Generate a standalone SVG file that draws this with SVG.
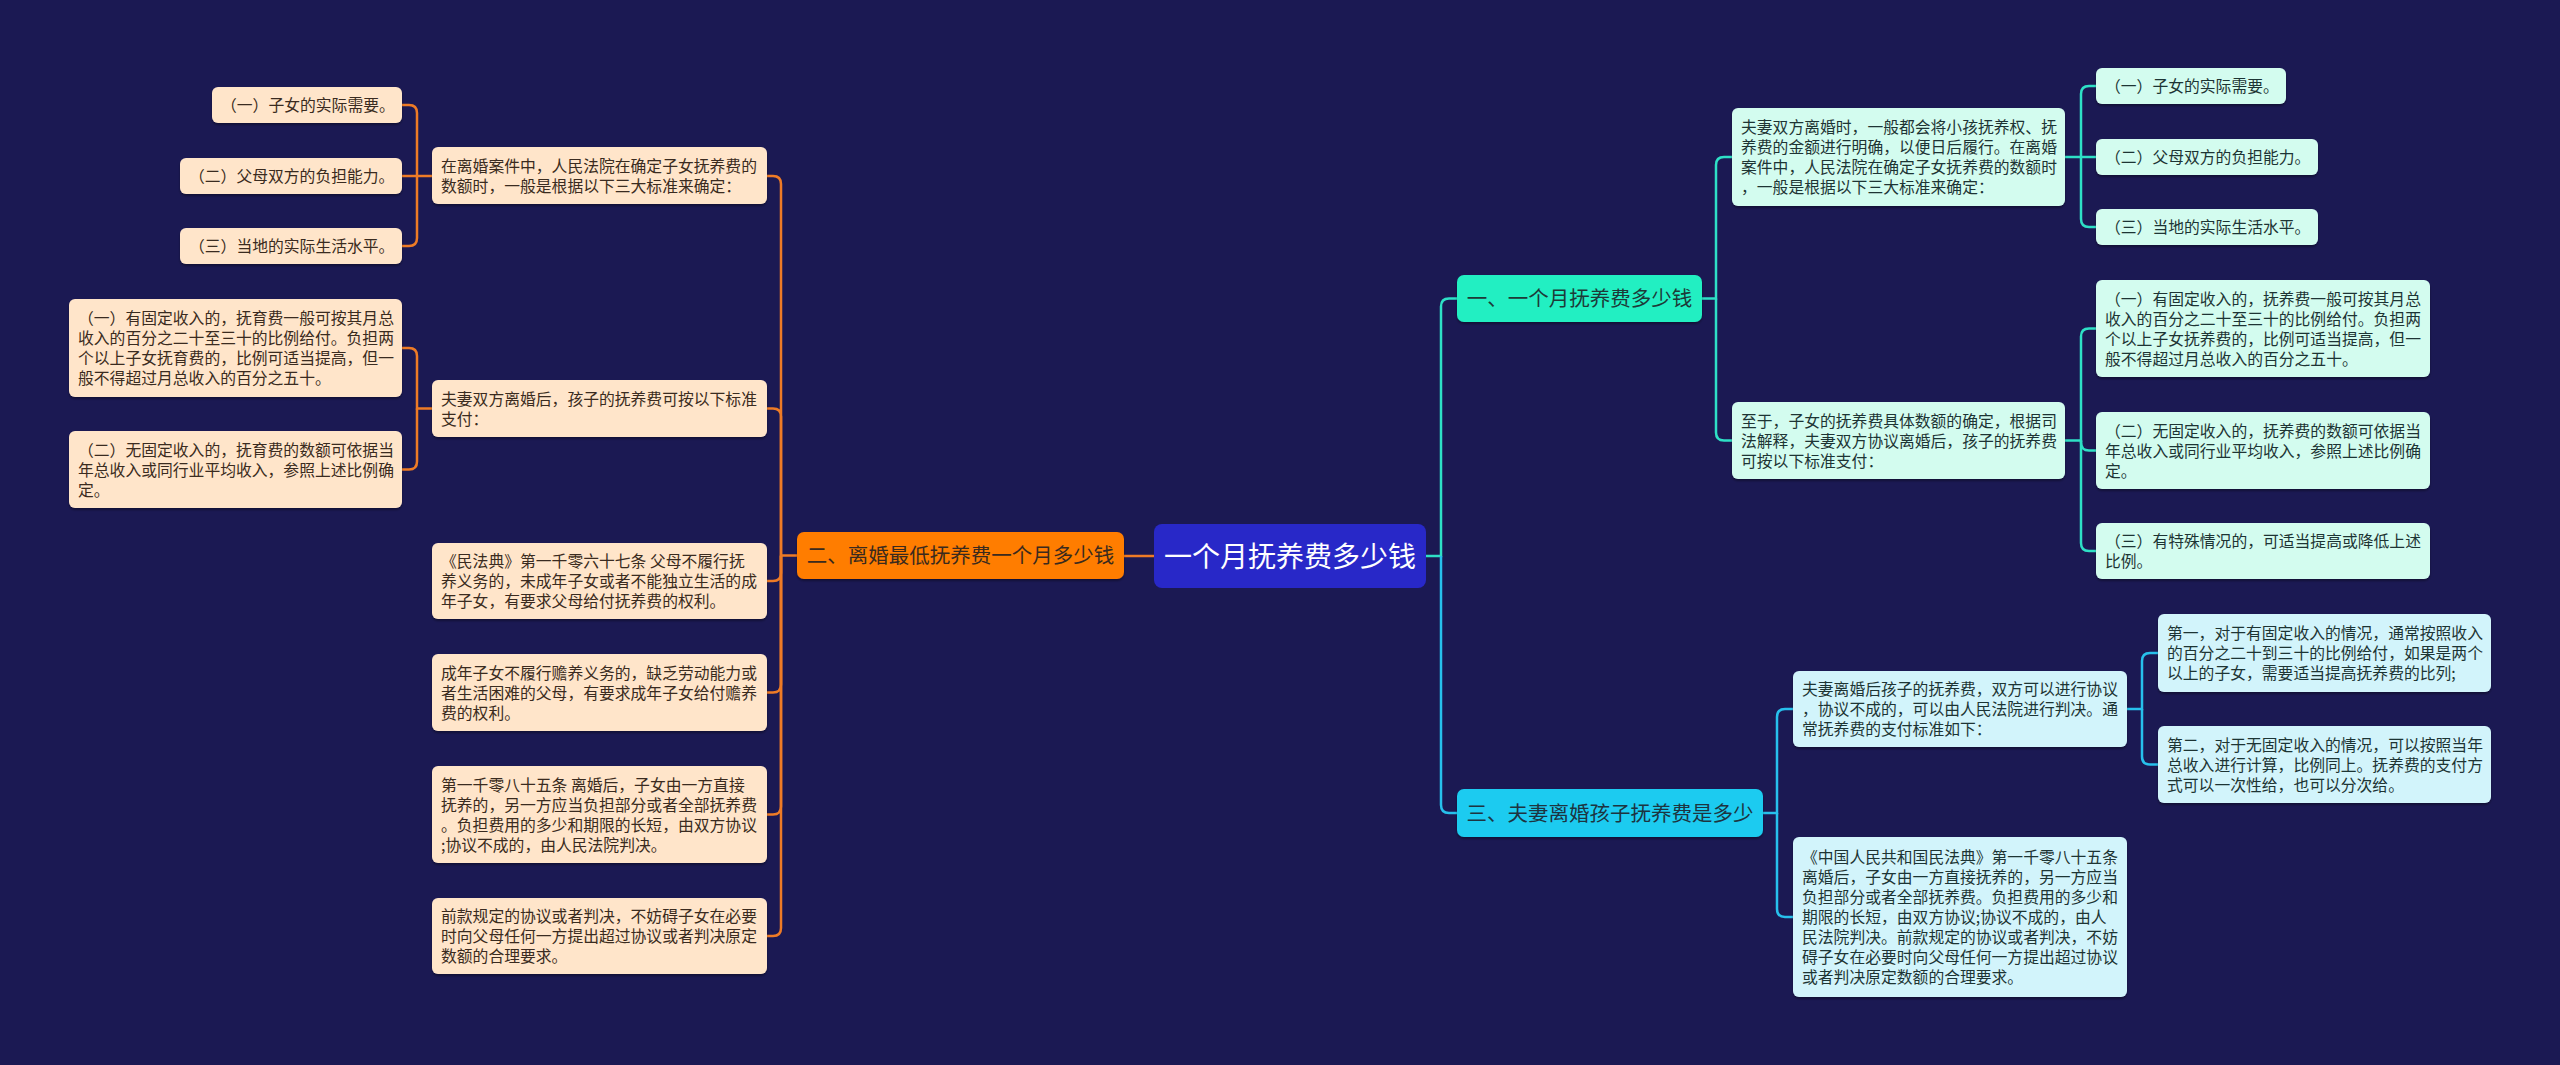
<svg xmlns="http://www.w3.org/2000/svg" width="2560" height="1065" viewBox="0 0 2560 1065">
<defs>
<filter id="sh" x="-5%" y="-10%" width="110%" height="130%">
<feDropShadow dx="0" dy="2" stdDeviation="1.2" flood-color="#000" flood-opacity="0.35"/>
</filter>
</defs>
<style>
text{font-family:"Noto Sans CJK SC","Noto Sans",sans-serif;}
.leaf{font-size:15.8px;}
.lo{fill:#ffe5ca;}
.lt{fill:#d3fcef;}
.lc{fill:#d2f4fb;}
.to{fill:#3a2b20;}
.tt{fill:#1d3434;}
.co{fill:none;stroke:#ee7b26;stroke-width:2.5;}
.ct{fill:none;stroke:#2ee0c6;stroke-width:2.5;}
.cc{fill:none;stroke:#27c0ec;stroke-width:2.5;}
.br{font-size:20.5px;}
</style>
<rect x="0" y="0" width="2560" height="1065" fill="#1b1953"/>

<g id="connectors">
<path class="co" d="M 1154 556 H 1124"/>
<path class="co" d="M 797 555.5 H 781"/>
<path class="co" d="M 781 555.5 V 184 Q 781 176 773 176 H 767"/>
<path class="co" d="M 781 555.5 V 416.5 Q 781 408.5 773 408.5 H 767"/>
<path class="co" d="M 781 555.5 V 573 Q 781 581 773 581 H 767"/>
<path class="co" d="M 781 555.5 V 684.5 Q 781 692.5 773 692.5 H 767"/>
<path class="co" d="M 781 555.5 V 806.5 Q 781 814.5 773 814.5 H 767"/>
<path class="co" d="M 781 555.5 V 928 Q 781 936 773 936 H 767"/>
<path class="co" d="M 432 176 H 402"/>
<path class="co" d="M 417 176 V 113 Q 417 105 409 105 H 402"/>
<path class="co" d="M 417 176 V 238 Q 417 246 409 246 H 402"/>
<path class="co" d="M 432 408.5 H 417 V 356 Q 417 348 409 348 H 402"/>
<path class="co" d="M 417 408.5 V 461.5 Q 417 469.5 409 469.5 H 402"/>

<path class="ct" d="M 1426 556 H 1441 V 306.5 Q 1441 298.5 1449 298.5 H 1457"/>
<path class="cc" d="M 1441 556 V 805 Q 1441 813 1449 813 H 1457"/>
<path class="ct" d="M 1702 298.5 H 1716 V 165 Q 1716 157 1724 157 H 1732"/>
<path class="ct" d="M 1716 298.5 V 432.5 Q 1716 440.5 1724 440.5 H 1732"/>
<path class="ct" d="M 2065 157 H 2096"/>
<path class="ct" d="M 2081 157 V 94 Q 2081 86 2089 86 H 2096"/>
<path class="ct" d="M 2081 157 V 219 Q 2081 227 2089 227 H 2096"/>
<path class="ct" d="M 2065 440.5 H 2081 V 336.5 Q 2081 328.5 2089 328.5 H 2096"/>
<path class="ct" d="M 2081 440.5 V 442.5 Q 2081 450.5 2089 450.5 H 2096"/>
<path class="ct" d="M 2081 440.5 V 543 Q 2081 551 2089 551 H 2096"/>
<path class="cc" d="M 1763 813 H 1777 V 717 Q 1777 709 1785 709 H 1793"/>
<path class="cc" d="M 1777 813 V 909 Q 1777 917 1785 917 H 1793"/>
<path class="cc" d="M 2127 709 H 2142 V 661 Q 2142 653 2150 653 H 2158"/>
<path class="cc" d="M 2142 709 V 756.5 Q 2142 764.5 2150 764.5 H 2158"/>
</g>

<g id="root">
<rect x="1154" y="524" width="272" height="64" rx="8" fill="#2828c8"/>
<text x="1290" y="566.5" font-size="28" fill="#ffffff" text-anchor="middle">一个月抚养费多少钱</text>
</g>

<g id="branch2">
<rect x="797" y="532" width="327" height="47" rx="7" fill="#ff7d05" filter="url(#sh)"/>
<text class="br" x="960.5" y="563" fill="#3a2a1e" text-anchor="middle">二、离婚最低抚养费一个月多少钱</text>
</g>
<g id="branch1">
<rect x="1457" y="275" width="245" height="47" rx="7" fill="#22efc2" filter="url(#sh)"/>
<text class="br" x="1579.5" y="306" fill="#1d3a38" text-anchor="middle">一、一个月抚养费多少钱</text>
</g>
<g id="branch3">
<rect x="1457" y="789" width="306" height="48" rx="7" fill="#1ccbf0" filter="url(#sh)"/>
<text class="br" x="1610" y="820.5" fill="#1d3440" text-anchor="middle">三、夫妻离婚孩子抚养费是多少</text>
</g>

<g id="nE1"><rect class="lo" x="212" y="87" width="190" height="36" rx="6" filter="url(#sh)"/>
<text class="leaf to" x="221" y="111">（一）子女的实际需要。</text></g>
<g id="nE2"><rect class="lo" x="180" y="158" width="222" height="36" rx="6" filter="url(#sh)"/>
<text class="leaf to" x="189" y="182">（二）父母双方的负担能力。</text></g>
<g id="nE3"><rect class="lo" x="180" y="228" width="222" height="36" rx="6" filter="url(#sh)"/>
<text class="leaf to" x="189" y="252">（三）当地的实际生活水平。</text></g>
<g id="nE"><rect class="lo" x="432" y="147" width="335" height="57" rx="6" filter="url(#sh)"/>
<text class="leaf to"><tspan x="441" y="171.5">在离婚案件中，人民法院在确定子女抚养费的</tspan><tspan x="441" y="191.5">数额时，一般是根据以下三大标准来确定：</tspan></text></g>
<g id="nF"><rect class="lo" x="432" y="380" width="335" height="57" rx="6" filter="url(#sh)"/>
<text class="leaf to"><tspan x="441" y="404.5">夫妻双方离婚后，孩子的抚养费可按以下标准</tspan><tspan x="441" y="424.5">支付：</tspan></text></g>
<g id="nF1"><rect class="lo" x="69" y="299" width="333" height="98" rx="6" filter="url(#sh)"/>
<text class="leaf to"><tspan x="78" y="324">（一）有固定收入的，抚育费一般可按其月总</tspan><tspan x="78" y="344">收入的百分之二十至三十的比例给付。负担两</tspan><tspan x="78" y="364">个以上子女抚育费的，比例可适当提高，但一</tspan><tspan x="78" y="384">般不得超过月总收入的百分之五十。</tspan></text></g>
<g id="nF2"><rect class="lo" x="69" y="431" width="333" height="77" rx="6" filter="url(#sh)"/>
<text class="leaf to"><tspan x="78" y="455.5">（二）无固定收入的，抚育费的数额可依据当</tspan><tspan x="78" y="475.5">年总收入或同行业平均收入，参照上述比例确</tspan><tspan x="78" y="495.5">定。</tspan></text></g>
<g id="nG"><rect class="lo" x="432" y="543" width="335" height="76" rx="6" filter="url(#sh)"/>
<text class="leaf to"><tspan x="441" y="567">《民法典》第一千零六十七条 父母不履行抚</tspan><tspan x="441" y="587">养义务的，未成年子女或者不能独立生活的成</tspan><tspan x="441" y="607">年子女，有要求父母给付抚养费的权利。</tspan></text></g>
<g id="nH"><rect class="lo" x="432" y="654" width="335" height="77" rx="6" filter="url(#sh)"/>
<text class="leaf to"><tspan x="441" y="678.5">成年子女不履行赡养义务的，缺乏劳动能力或</tspan><tspan x="441" y="698.5">者生活困难的父母，有要求成年子女给付赡养</tspan><tspan x="441" y="718.5">费的权利。</tspan></text></g>
<g id="nI"><rect class="lo" x="432" y="766" width="335" height="97" rx="6" filter="url(#sh)"/>
<text class="leaf to"><tspan x="441" y="790.5">第一千零八十五条 离婚后，子女由一方直接</tspan><tspan x="441" y="810.5">抚养的，另一方应当负担部分或者全部抚养费</tspan><tspan x="441" y="830.5">。负担费用的多少和期限的长短，由双方协议</tspan><tspan x="441" y="850.5">;协议不成的，由人民法院判决。</tspan></text></g>
<g id="nJ"><rect class="lo" x="432" y="898" width="335" height="76" rx="6" filter="url(#sh)"/>
<text class="leaf to"><tspan x="441" y="922">前款规定的协议或者判决，不妨碍子女在必要</tspan><tspan x="441" y="942">时向父母任何一方提出超过协议或者判决原定</tspan><tspan x="441" y="962">数额的合理要求。</tspan></text></g>

<g id="nA"><rect class="lt" x="1732" y="108" width="333" height="98" rx="6" filter="url(#sh)"/>
<text class="leaf tt"><tspan x="1741" y="133">夫妻双方离婚时，一般都会将小孩抚养权、抚</tspan><tspan x="1741" y="153">养费的金额进行明确，以便日后履行。在离婚</tspan><tspan x="1741" y="173">案件中，人民法院在确定子女抚养费的数额时</tspan><tspan x="1741" y="193">，一般是根据以下三大标准来确定：</tspan></text></g>
<g id="nA1"><rect class="lt" x="2096" y="68" width="190" height="36" rx="6" filter="url(#sh)"/>
<text class="leaf tt" x="2105" y="92">（一）子女的实际需要。</text></g>
<g id="nA2"><rect class="lt" x="2096" y="139" width="222" height="36" rx="6" filter="url(#sh)"/>
<text class="leaf tt" x="2105" y="163">（二）父母双方的负担能力。</text></g>
<g id="nA3"><rect class="lt" x="2096" y="209" width="222" height="36" rx="6" filter="url(#sh)"/>
<text class="leaf tt" x="2105" y="233">（三）当地的实际生活水平。</text></g>
<g id="nB"><rect class="lt" x="1732" y="402" width="333" height="77" rx="6" filter="url(#sh)"/>
<text class="leaf tt"><tspan x="1741" y="426.5">至于，子女的抚养费具体数额的确定，根据司</tspan><tspan x="1741" y="446.5">法解释，夫妻双方协议离婚后，孩子的抚养费</tspan><tspan x="1741" y="466.5">可按以下标准支付：</tspan></text></g>
<g id="nB1"><rect class="lt" x="2096" y="280" width="334" height="97" rx="6" filter="url(#sh)"/>
<text class="leaf tt"><tspan x="2105" y="304.5">（一）有固定收入的，抚养费一般可按其月总</tspan><tspan x="2105" y="324.5">收入的百分之二十至三十的比例给付。负担两</tspan><tspan x="2105" y="344.5">个以上子女抚养费的，比例可适当提高，但一</tspan><tspan x="2105" y="364.5">般不得超过月总收入的百分之五十。</tspan></text></g>
<g id="nB2"><rect class="lt" x="2096" y="412" width="334" height="77" rx="6" filter="url(#sh)"/>
<text class="leaf tt"><tspan x="2105" y="436.5">（二）无固定收入的，抚养费的数额可依据当</tspan><tspan x="2105" y="456.5">年总收入或同行业平均收入，参照上述比例确</tspan><tspan x="2105" y="476.5">定。</tspan></text></g>
<g id="nB3"><rect class="lt" x="2096" y="523" width="334" height="56" rx="6" filter="url(#sh)"/>
<text class="leaf tt"><tspan x="2105" y="547">（三）有特殊情况的，可适当提高或降低上述</tspan><tspan x="2105" y="567">比例。</tspan></text></g>

<g id="nC"><rect class="lc" x="1793" y="671" width="334" height="76" rx="6" filter="url(#sh)"/>
<text class="leaf tt"><tspan x="1802" y="695">夫妻离婚后孩子的抚养费，双方可以进行协议</tspan><tspan x="1802" y="715">，协议不成的，可以由人民法院进行判决。通</tspan><tspan x="1802" y="735">常抚养费的支付标准如下：</tspan></text></g>
<g id="nC1"><rect class="lc" x="2158" y="614" width="333" height="78" rx="6" filter="url(#sh)"/>
<text class="leaf tt"><tspan x="2167" y="639">第一，对于有固定收入的情况，通常按照收入</tspan><tspan x="2167" y="659">的百分之二十到三十的比例给付，如果是两个</tspan><tspan x="2167" y="679">以上的子女，需要适当提高抚养费的比列;</tspan></text></g>
<g id="nC2"><rect class="lc" x="2158" y="726" width="333" height="77" rx="6" filter="url(#sh)"/>
<text class="leaf tt"><tspan x="2167" y="750.5">第二，对于无固定收入的情况，可以按照当年</tspan><tspan x="2167" y="770.5">总收入进行计算，比例同上。抚养费的支付方</tspan><tspan x="2167" y="790.5">式可以一次性给，也可以分次给。</tspan></text></g>
<g id="nD"><rect class="lc" x="1793" y="837" width="334" height="160" rx="6" filter="url(#sh)"/>
<text class="leaf tt"><tspan x="1802" y="863">《中国人民共和国民法典》第一千零八十五条</tspan><tspan x="1802" y="883">离婚后，子女由一方直接抚养的，另一方应当</tspan><tspan x="1802" y="903">负担部分或者全部抚养费。负担费用的多少和</tspan><tspan x="1802" y="923">期限的长短，由双方协议;协议不成的，由人</tspan><tspan x="1802" y="943">民法院判决。前款规定的协议或者判决，不妨</tspan><tspan x="1802" y="963">碍子女在必要时向父母任何一方提出超过协议</tspan><tspan x="1802" y="983">或者判决原定数额的合理要求。</tspan></text></g>
</svg>
